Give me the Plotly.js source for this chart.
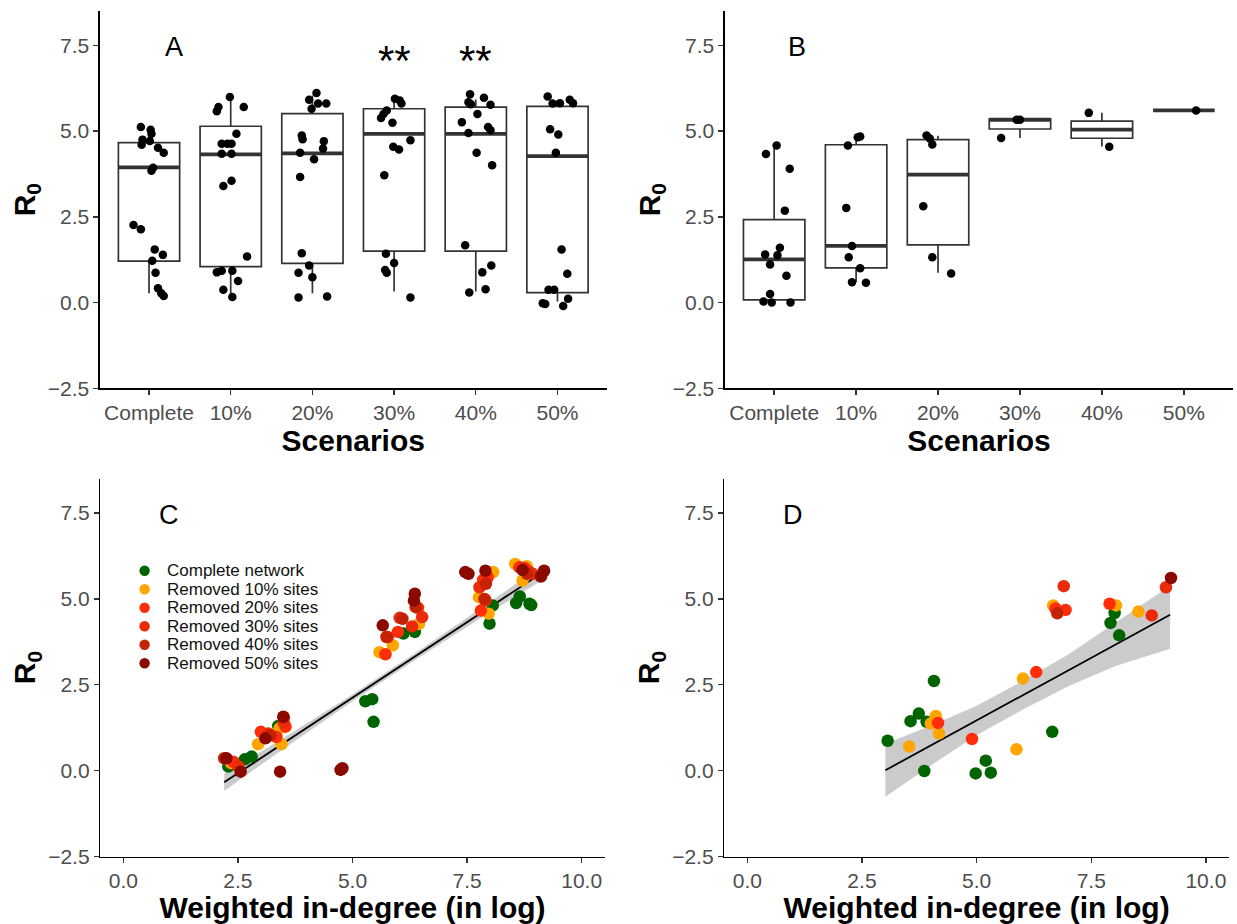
<!DOCTYPE html>
<html>
<head>
<meta charset="utf-8">
<script src="https://cdn.plot.ly/plotly-3.0.1.min.js"></script>
<style>html,body{margin:0;padding:0;background:#fff;}#chart{width:1237px;height:924px;}</style>
</head>
<body>
<div id="chart"></div>
<script>
// ---------- categories / labels ----------
const scenarios = ['Complete', '10%', '20%', '30%', '40%', '50%'];
const legendLabels = ['Complete network', 'Removed 10% sites', 'Removed 20% sites',
                      'Removed 30% sites', 'Removed 40% sites', 'Removed 50% sites'];
const scenarioColors = ['#006400', '#FFA500', '#FF2D0A', '#EB2A0A', '#C42205', '#8B0A00'];

// ---------- Panel A: box statistics ----------
const aQ1  = [1.21, 1.05, 1.14, 1.50, 1.50, 0.29];
const aMed = [3.94, 4.32, 4.35, 4.92, 4.92, 4.27];
const aQ3  = [4.66, 5.14, 5.51, 5.65, 5.70, 5.72];
const aLo  = [0.27, 0.16, 0.27, 0.32, 0.32, 0.03];
const aHi  = [5.10, 5.99, 6.04, 5.94, 5.92, 5.90];
// Panel A: jittered points (horizontal jitter, R0)
const aJitter = [
  [-0.10,0.02,0.03,-0.08,0.01,-0.09,0.11,0.18,0.05,0.03,-0.19,-0.10,0.07,0.17,0.04,0.08,0.11,0.15,0.18],
  [-0.15,-0.17,-0.01,0.16,0.07,-0.11,-0.04,0.01,-0.11,0.01,0.01,-0.09,0.20,-0.17,-0.11,0.02,0.09,-0.09,0.02],
  [0.05,-0.04,0.07,0.17,-0.01,-0.13,-0.12,0.14,0.13,-0.15,0.02,-0.15,-0.13,-0.04,-0.17,0.00,-0.17,0.18],
  [0.01,0.07,0.09,-0.09,-0.13,-0.16,-0.02,0.20,-0.01,0.06,-0.12,-0.10,0.00,-0.11,-0.09,0.20],
  [-0.07,0.10,-0.09,-0.06,0.18,0.02,-0.17,0.15,0.18,-0.09,0.01,0.20,-0.13,0.19,0.08,0.12,-0.08],
  [-0.12,-0.06,0.03,0.15,0.19,-0.09,0.01,-0.02,0.05,0.12,-0.11,-0.04,-0.15,-0.18,0.07,0.13]
];
const aR0 = [
  [5.12,5.04,4.92,4.75,4.71,4.60,4.51,4.37,3.93,3.84,2.26,2.14,1.55,1.39,1.22,0.87,0.42,0.27,0.19],
  [5.70,5.58,5.99,5.70,4.92,4.63,4.63,4.63,4.34,4.34,3.55,3.40,1.34,0.88,0.93,0.93,0.63,0.37,0.16],
  [6.11,5.91,5.80,5.80,5.65,4.87,4.76,4.70,4.49,4.37,4.18,3.66,1.44,1.08,0.87,0.74,0.15,0.18],
  [5.94,5.89,5.80,5.60,5.50,5.38,5.24,4.73,4.54,4.46,3.71,1.42,1.15,0.95,0.87,0.15],
  [6.07,5.97,5.84,5.78,5.77,5.50,5.26,5.12,5.02,4.94,4.37,4.00,1.67,1.08,0.88,0.39,0.29],
  [6.01,5.80,5.81,5.91,5.81,5.05,4.90,4.37,1.55,0.84,0.37,0.37,-0.04,-0.02,-0.10,0.11]
];
const aSignificance = ['', '', '', '**', '**', ''];

// ---------- Panel B ----------
const bQ1  = [0.08, 1.01, 1.68, 5.06, 4.79, 5.60];
const bMed = [1.26, 1.65, 3.73, 5.33, 5.04, 5.60];
const bQ3  = [2.42, 4.60, 4.75, 5.35, 5.29, 5.60];
const bLo  = [0.00, 0.60, 0.87, 4.80, 4.55, 5.60];
const bHi  = [4.58, 4.84, 4.86, 5.35, 5.53, 5.60];
const bJitter = [
  [0.03,-0.10,0.19,0.13,0.07,-0.11,0.04,-0.05,0.15,-0.05,-0.13,-0.03,0.20],
  [0.02,0.05,-0.10,-0.12,-0.05,-0.09,0.05,-0.05,0.12],
  [-0.14,-0.10,-0.07,-0.18,-0.07,0.16],
  [-0.04,0.00,-0.23],
  [-0.16,0.09],
  [0.15]
];
const bR0 = [
  [4.58,4.33,3.90,2.68,1.60,1.40,1.38,1.11,0.78,0.25,0.03,0.00,0.00],
  [4.82,4.84,4.58,2.76,1.65,1.32,1.00,0.59,0.58],
  [4.87,4.78,4.61,2.81,1.32,0.85],
  [5.33,5.33,4.80],
  [5.53,4.54],
  [5.60]
];

// ---------- Panel C: weighted in-degree (log) vs R0 ----------
const cDegree = [
  [2.29,2.45,2.65,2.80,3.38,5.28,5.43,5.46,6.11,6.36,7.99,8.06,8.57,8.65,8.86,8.90],
  [2.35,2.94,3.41,3.45,5.59,5.88,6.45,7.76,7.97,8.07,8.55,8.71,8.80],
  [2.40,3.00,3.34,3.54,5.72,5.99,6.43,7.80,7.85,7.95,8.64,8.85],
  [2.51,3.16,3.50,5.77,6.03,6.30,6.52,7.77,7.90,8.75,8.93],
  [2.20,3.21,3.50,5.74,6.09,6.38,7.88,7.91,8.81,9.12],
  [2.25,2.56,3.10,3.42,3.49,4.74,4.78,5.66,6.34,6.36,7.46,7.53,7.90,8.71,9.11,9.18]
];
const cR0 = [
  [0.12,0.20,0.33,0.41,1.30,2.02,2.08,1.42,3.99,4.04,4.28,4.81,4.88,5.07,4.86,4.82],
  [0.22,0.77,1.23,0.77,3.45,3.65,4.27,5.05,4.57,5.78,6.02,5.53,5.95],
  [0.26,1.13,0.98,1.28,3.39,4.04,4.74,4.66,5.55,5.63,5.92,5.80],
  [0.12,1.08,1.40,3.89,4.45,4.20,4.47,5.34,4.96,5.90,5.73],
  [0.36,1.03,1.55,3.89,4.42,4.76,5.00,5.44,5.73,5.68],
  [0.36,-0.03,0.94,-0.03,1.57,0.02,0.07,4.23,4.95,5.15,5.78,5.73,5.82,5.84,5.65,5.82]
];
// Panel C linear fit and 95% band
const cFitX  = [2.20, 3.50, 5.00, 6.50, 8.00, 9.18];
const cFitY  = [-0.34, 0.80, 2.12, 3.44, 4.76, 5.80];
const cBandLo = [-0.59, 0.64, 2.02, 3.34, 4.61, 5.58];
const cBandHi = [-0.09, 0.96, 2.22, 3.54, 4.91, 6.02];

// ---------- Panel D ----------
const dDegree = [
  [3.06,3.56,3.74,3.91,4.07,3.86,5.20,4.98,5.31,6.65,7.92,8.01,8.11],
  [3.53,4.00,4.11,4.18,5.87,6.01,6.67,8.04,8.53],
  [4.16,4.90,6.30,6.94,7.90,6.72],
  [9.13,6.90,8.82],
  [6.76],
  [9.24]
];
const dR0 = [
  [0.87,1.44,1.66,1.42,2.61,-0.01,0.29,-0.08,-0.06,1.13,4.30,4.59,3.94],
  [0.70,1.37,1.59,1.08,0.62,2.68,4.81,4.81,4.63],
  [1.39,0.92,2.87,4.68,4.86,4.72],
  [5.34,5.37,4.52],
  [4.58],
  [5.61]
];
const dFitX  = [3.01, 4.00, 5.00, 6.00, 7.00, 8.00, 9.22];
const dFitY  = [0.01, 0.73, 1.46, 2.19, 2.92, 3.65, 4.54];
const dBandLo = [-0.76, 0.15, 1.03, 1.77, 2.46, 3.03, 3.55];
const dBandHi = [0.78, 1.31, 1.89, 2.61, 3.38, 4.27, 5.38];

const panelLetters = ['A', 'B', 'C', 'D'];

// ---------- build traces ----------
const FONT = 'Liberation Sans, Arial, Helvetica, sans-serif';
const BOXW = 0.75;
const catIdx = scenarios.map((_, i) => i + 1);
const traces = [];

function boxPanel(q1, med, q3, lo, hi, jit, vals, xa, ya) {
  traces.push({
    type: 'box', x: catIdx, q1: q1, median: med, q3: q3, lowerfence: lo, upperfence: hi,
    width: BOXW, whiskerwidth: 0, fillcolor: 'rgba(255,255,255,0)',
    line: {color: '#333333', width: 1.7}, boxpoints: false, hoverinfo: 'skip',
    xaxis: xa, yaxis: ya, showlegend: false
  });
  const mx = [], my = [];
  med.forEach((m, i) => { mx.push(i + 1 - BOXW / 2, i + 1 + BOXW / 2, null); my.push(m, m, null); });
  traces.push({type: 'scatter', mode: 'lines', x: mx, y: my, line: {color: '#333333', width: 3.8},
               xaxis: xa, yaxis: ya, showlegend: false, hoverinfo: 'skip'});
  const px = [], py = [];
  vals.forEach((arr, i) => arr.forEach((v, k) => { px.push(i + 1 + jit[i][k]); py.push(v); }));
  traces.push({type: 'scatter', mode: 'markers', x: px, y: py,
               marker: {color: '#000000', size: 8.5}, xaxis: xa, yaxis: ya, showlegend: false});
}
boxPanel(aQ1, aMed, aQ3, aLo, aHi, aJitter, aR0, 'x', 'y');
boxPanel(bQ1, bMed, bQ3, bLo, bHi, bJitter, bR0, 'x2', 'y2');

function scatterPanel(deg, r0, fx, fy, lo, hi, xa, ya) {
  traces.push({type: 'scatter', mode: 'lines', x: fx.concat(fx.slice().reverse()),
               y: hi.concat(lo.slice().reverse()), fill: 'toself', fillcolor: '#CBCBCB',
               line: {width: 0}, xaxis: xa, yaxis: ya, showlegend: false, hoverinfo: 'skip'});
  traces.push({type: 'scatter', mode: 'lines', x: fx, y: fy, line: {color: '#000000', width: 1.8},
               xaxis: xa, yaxis: ya, showlegend: false});
  deg.forEach((arr, i) => {
    traces.push({type: 'scatter', mode: 'markers', x: arr, y: r0[i], name: legendLabels[i],
                 marker: {color: scenarioColors[i], size: 12.5}, xaxis: xa, yaxis: ya, showlegend: false});
  });
}
scatterPanel(cDegree, cR0, cFitX, cFitY, cBandLo, cBandHi, 'x3', 'y3');
scatterPanel(dDegree, dR0, dFitX, dFitY, dBandLo, dBandHi, 'x4', 'y4');

// ---------- layout ----------
const W = 1237, H = 924;
const TICKFONT = {size: 21, color: '#4D4D4D', family: FONT};
const TITLEFONT = {size: 30, color: '#000', family: FONT, weight: 'bold'};
function yAx(domain, anchor) {
  return {domain: domain, anchor: anchor, range: [-2.5, 8.5], tickvals: [-2.5, 0, 2.5, 5, 7.5],
          tickformat: '.1f', showline: true, linecolor: '#000', linewidth: 1.6, ticks: 'outside',
          ticklen: 5, tickwidth: 1.4, tickcolor: '#333', showgrid: false, zeroline: false,
          tickfont: TICKFONT,
          title: {text: 'R<sub>0</sub>', standoff: 3, font: TITLEFONT}};
}
function xCat(domain, anchor) {
  return {domain: domain, anchor: anchor, range: [0.4, 6.6], tickvals: catIdx, ticktext: scenarios,
          showline: true, linecolor: '#000', linewidth: 1.6, ticks: 'outside', ticklen: 5, tickwidth: 1.4,
          tickcolor: '#333', showgrid: false, zeroline: false,
          tickfont: TICKFONT,
          title: {text: 'Scenarios', standoff: 3, font: TITLEFONT}};
}
function xNum(domain, anchor) {
  return {domain: domain, anchor: anchor, range: [-0.5, 10.5], tickvals: [0, 2.5, 5, 7.5, 10], tickformat: '.1f',
          showline: true, linecolor: '#000', linewidth: 1.6, ticks: 'outside', ticklen: 5, tickwidth: 1.4,
          tickcolor: '#333', showgrid: false, zeroline: false,
          tickfont: TICKFONT,
          title: {text: 'Weighted in-degree (in log)', standoff: 2, font: TITLEFONT}};
}
const topDom = [1 - 388.3 / H, 1 - 11 / H];
const botDom = [1 - 856.5 / H, 1 - 478.7 / H];

const annotations = [];
const letterPos = [[1.3, 'x', 'y'], [1.28, 'x2', 'y2'], [1.0, 'x3', 'y3'], [1.0, 'x4', 'y4']];
panelLetters.forEach((L, i) => annotations.push({text: L, x: letterPos[i][0], y: 7.45, xref: letterPos[i][1],
  yref: letterPos[i][2], showarrow: false, font: {size: 27, color: '#000', family: FONT}}));
aSignificance.forEach((s, i) => { if (s) annotations.push({text: s, x: i + 1, y: 7.05, xref: 'x', yref: 'y',
  showarrow: false, font: {size: 42, color: '#000', family: FONT}}); });

// manual legend for panel C
const shapes = [];
const legX = 144.6, legX0 = 165.4, legY0 = 570.7, legDy = 18.5, legR = 5.2;
legendLabels.forEach((lab, i) => {
  const yc = legY0 + i * legDy;
  shapes.push({type: 'circle', xref: 'paper', yref: 'paper', x0: (legX - legR) / W, x1: (legX + legR) / W,
               y0: 1 - (yc + legR) / H, y1: 1 - (yc - legR) / H, fillcolor: scenarioColors[i], line: {width: 0}});
  annotations.push({text: lab, xref: 'paper', yref: 'paper', x: legX0 / W, y: 1 - yc / H, xanchor: 'left',
                    yanchor: 'middle', showarrow: false, font: {size: 17, color: '#111', family: FONT}});
});

const layout = {
  width: W, height: H, margin: {l: 0, r: 0, t: 0, b: 0}, paper_bgcolor: '#fff', plot_bgcolor: '#fff',
  showlegend: false, font: {family: FONT},
  xaxis: xCat([100 / W, 606.5 / W], 'y'), yaxis: yAx(topDom, 'x'),
  xaxis2: xCat([725 / W, 1233 / W], 'y2'), yaxis2: yAx(topDom, 'x2'),
  xaxis3: xNum([100.4 / W, 604.6 / W], 'y3'), yaxis3: yAx(botDom, 'x3'),
  xaxis4: xNum([724.4 / W, 1228.8 / W], 'y4'), yaxis4: yAx(botDom, 'x4'),
  annotations: annotations, shapes: shapes
};
Plotly.newPlot('chart', traces, layout, {staticPlot: true, displayModeBar: false});
</script>
</body>
</html>
